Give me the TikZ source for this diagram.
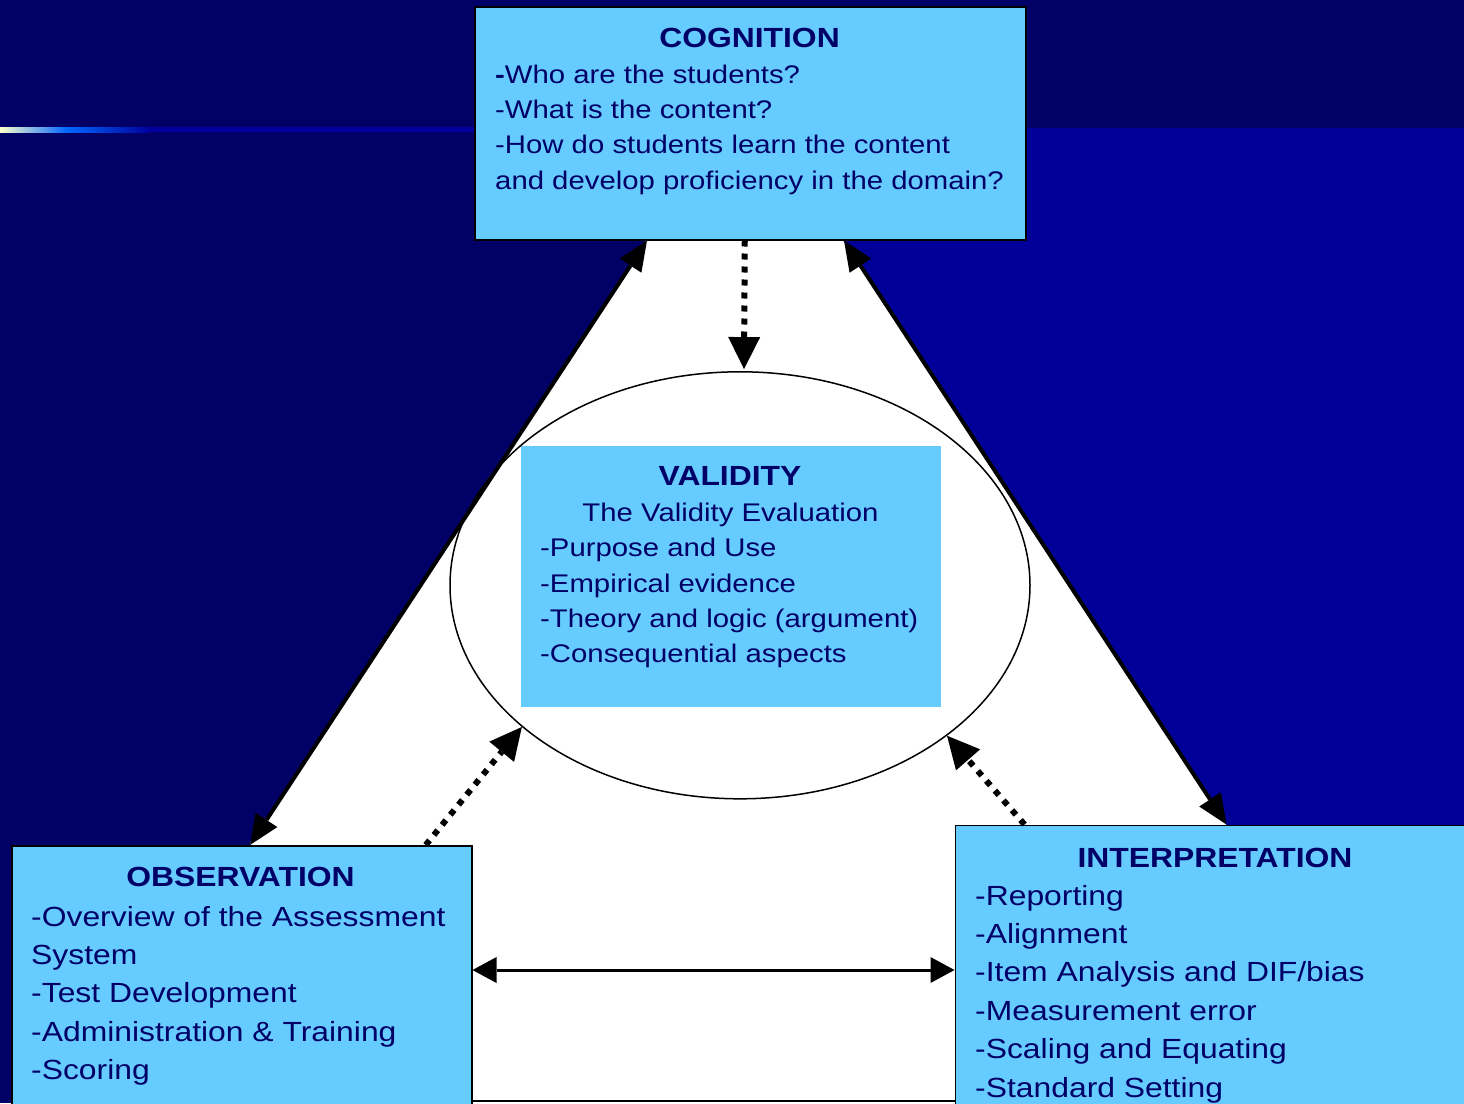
\documentclass[tikz,border=0pt]{standalone}
\usepackage{fontspec}
\setmainfont{Liberation Sans}[FakeStretch=1.15]
\usetikzlibrary{arrows.meta,shapes.geometric,calc}
\definecolor{navyA}{HTML}{000066}
\definecolor{navyB}{HTML}{000099}
\definecolor{lineB}{HTML}{00009C}
\definecolor{boxfill}{HTML}{66CCFF}
\definecolor{txtc}{HTML}{000066}
\definecolor{cream}{HTML}{FFFFCC}
\definecolor{brightblue}{HTML}{0066FF}
\tikzset{
  panel/.style={draw=black, fill=boxfill, rectangle, inner sep=0pt, anchor=north west},
  titletxt/.style={anchor=base, inner sep=0pt, text=txtc, font=\fontsize{27.7}{33}\selectfont\bfseries},
  bigtxt/.style={anchor=base west, inner sep=0pt, text=txtc, font=\fontsize{27.7}{33}\selectfont},
  smalltxt/.style={anchor=base west, inner sep=0pt, text=txtc, font=\fontsize{25.5}{30}\selectfont},
  sidearrow/.style={line width=4pt, {Triangle[length=30pt,width=26pt,line width=0pt]}-{Triangle[length=30pt,width=26pt,line width=0pt]}},
  dotarrow/.style={line width=6pt, dash pattern=on 6pt off 7pt, -{Triangle[length=32pt,width=32pt,line width=0pt]}},
  flatarrow/.style={line width=3pt, {Triangle[length=24pt,width=26pt,line width=0pt]}-{Triangle[length=24pt,width=26pt,line width=0pt]}}
}
\begin{document}
\begin{tikzpicture}[x=1pt,y=-1pt]
\useasboundingbox (0,0) rectangle (1464,1103);
% background
\fill[navyA] (0,0) rectangle (1464,1103);
\fill[navyB] (750,127.5) rectangle (1464,1103);
\fill[lineB] (150,127) rectangle (476,132);
\shade[left color=cream, right color=brightblue] (0,127) rectangle (67,132);
\shade[left color=brightblue, right color=lineB] (67,127) rectangle (150,132);
% white field
\fill[white] (647,239) -- (842,239) -- (1226,824) -- (1226,1103) -- (250,1103) -- (250,843) -- cycle;
% ellipse and validity
\node[ellipse, draw=black, line width=1.5pt, fill=white, minimum width=580pt, minimum height=427pt, inner sep=0pt] (ell) at (740,585.3) {};
\node[fill=boxfill, rectangle, inner sep=0pt, anchor=north west, minimum width=420pt, minimum height=261pt] (val) at (521,446) {};
% boxes
\node[panel, line width=2pt, minimum width=551pt, minimum height=232.5pt] (cog) at (474,6) {};
\node[panel, line width=1.5pt, minimum width=460pt, minimum height=290pt] (obs) at (11,845) {};
\node[panel, line width=1.5pt, minimum width=540pt, minimum height=310pt] (interp) at (954.5,824.5) {};
% bottom edge between boxes
\draw[line width=2.5pt] ([yshift=-256pt]obs.north east) -- ([yshift=-276.5pt]interp.north west);
% connectors
\draw[sidearrow] ([xshift=173pt]cog.south west) -- ([xshift=239pt]obs.north west);
\draw[sidearrow] ([xshift=-183pt]cog.south east) -- ([xshift=272pt]interp.north west);
\draw[flatarrow] ([yshift=-125pt]obs.north east) -- ([yshift=-145.5pt]interp.north west);
\draw[dotarrow] ([xshift=-5.75pt]cog.south) -- ([xshift=4pt,yshift=2pt]ell.north);
\draw[dotarrow] ([xshift=414.7pt]obs.north west) -- (ell.213.6);
\draw[dotarrow] ([xshift=70pt]interp.north west) -- (ell.324.3);
% cognition text
\node[titletxt] (cogT) at (749.5,47.5) {COGNITION};
\node[smalltxt] (cog1) at (495,83.3) {\textbf{-}Who are the students?};
\node[smalltxt] (cog2) at (495,118.6) {-What is the content?};
\node[smalltxt] (cog3) at (495,153.9) {-How do students learn the content};
\node[smalltxt] (cog4) at (495,189.2) {and develop proficiency in the domain?};
% validity text
\node[titletxt] (valT) at (730,485) {VALIDITY};
\node[anchor=base, inner sep=0pt, text=txtc, font=\fontsize{25.5}{30}\selectfont] (val0) at (730.5,521.7) {The Validity Evaluation};
\node[smalltxt] (val1) at (540,556.7) {-Purpose and Use};
\node[smalltxt] (val2) at (540,592) {-Empirical evidence};
\node[smalltxt] (val3) at (540,627.3) {-Theory and logic (argument)};
\node[smalltxt] (val4) at (540,662.6) {-Consequential aspects};
% observation text
\node[titletxt] (obsT) at (240.5,886.7) {OBSERVATION};
\node[bigtxt] (obs1) at (31,926) {-Overview of the Assessment};
\node[bigtxt] (obs2) at (31,964.4) {System};
\node[bigtxt] (obs3) at (31,1002.8) {-Test Development};
\node[bigtxt] (obs4) at (31,1041.2) {-Administration \& Training};
\node[bigtxt] (obs5) at (31,1079.6) {-Scoring};
% interpretation text
\node[titletxt] (intT) at (1215,867) {INTERPRETATION};
\node[bigtxt] (int1) at (975,905) {-Reporting};
\node[bigtxt] (int2) at (975,943.4) {-Alignment};
\node[bigtxt] (int3) at (975,981.8) {-Item Analysis and DIF/bias};
\node[bigtxt] (int4) at (975,1020.2) {-Measurement error};
\node[bigtxt] (int5) at (975,1058.6) {-Scaling and Equating};
\node[bigtxt] (int6) at (975,1097) {-Standard Setting};
\end{tikzpicture}
\end{document}
